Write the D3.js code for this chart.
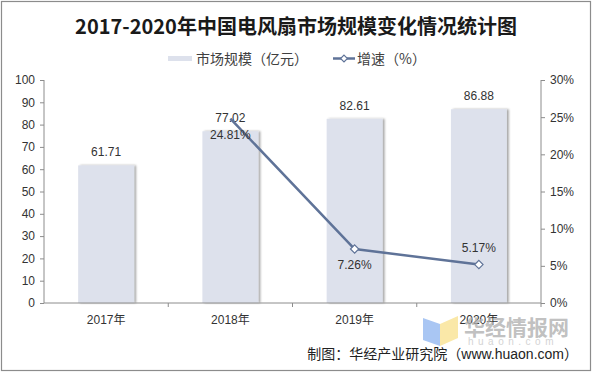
<!DOCTYPE html>
<html>
<head>
<meta charset="utf-8">
<script src="https://cdn.jsdelivr.net/npm/d3@7"></script>
<style>
  body { margin: 0; background: #fff; }
  svg { display: block; font-family: "Liberation Sans", Arial, "Noto Sans CJK SC", sans-serif; }
</style>
</head>
<body>
<svg id="chart"></svg>
<script>
const years = ["2017年", "2018年", "2019年", "2020年"];
const marketSize = [61.71, 77.02, 82.61, 86.88];
const growth = [null, 24.81, 7.26, 5.17];
const leftTicks = [0, 10, 20, 30, 40, 50, 60, 70, 80, 90, 100];
const rightTicks = [0, 5, 10, 15, 20, 25, 30];

const W = 592, H = 372;
const svg = d3.select("#chart").attr("width", W).attr("height", H);

const defs = svg.append("defs");
const f = defs.append("filter").attr("id", "shadow")
    .attr("x", "-10%").attr("y", "-5%").attr("width", "130%").attr("height", "110%");
f.append("feDropShadow").attr("dx", 2).attr("dy", 0).attr("stdDeviation", 1.2)
    .attr("flood-color", "#000").attr("flood-opacity", 0.35);

// outer frame
svg.append("rect").attr("x", 1.5).attr("y", 1.5).attr("width", W - 3).attr("height", H - 3)
    .attr("fill", "#fff").attr("stroke", "#8c8c8c").attr("stroke-width", 1.2);

const mLeft = 44, mRight = 541, mTop = 80, mBottom = 303;

const x = d3.scaleBand().domain(years).range([mLeft, mRight])
    .paddingInner(0.55).paddingOuter(0.275);
const y = d3.scaleLinear().domain([0, 100]).range([mBottom, mTop]);
const y2 = d3.scaleLinear().domain([0, 30]).range([mBottom, mTop]);

// title
svg.append("text").attr("x", 296).attr("y", 34).attr("text-anchor", "middle")
    .attr("font-family", "'Noto Sans CJK SC', sans-serif").attr("font-weight", "bold")
    .attr("font-size", 20).attr("fill", "#1a1a1a")
    .text("2017-2020年中国电风扇市场规模变化情况统计图");

// legend
const lineColor = "#5f7398";
const lg = svg.append("g").attr("font-family", "'Noto Sans CJK SC', sans-serif")
    .attr("font-size", 14).attr("fill", "#404040");
lg.append("rect").attr("x", 168).attr("y", 56).attr("width", 24).attr("height", 5).attr("fill", "#dde1ec");
lg.append("text").attr("x", 196).attr("y", 64).text("市场规模（亿元）");
lg.append("line").attr("x1", 333).attr("x2", 355).attr("y1", 58.5).attr("y2", 58.5)
    .attr("stroke", lineColor).attr("stroke-width", 2.5);
lg.append("path").attr("d", d3.symbol(d3.symbolDiamond2, 30)())
    .attr("transform", "translate(344,58.5)").attr("fill", "#fff").attr("stroke", lineColor).attr("stroke-width", 1.2);
lg.append("text").attr("x", 357).attr("y", 64).text("增速（%）");

// bars
svg.append("g").selectAll("rect").data(years).join("rect")
    .attr("x", d => x(d))
    .attr("y", (d, i) => y(marketSize[i]))
    .attr("width", x.bandwidth())
    .attr("height", (d, i) => mBottom - y(marketSize[i]))
    .attr("fill", "#dde1ec")
    .attr("filter", "url(#shadow)");

// axes
const axisColor = "#8c8c8c";
const gl = svg.append("g").attr("transform", `translate(${mLeft},0)`)
    .call(d3.axisLeft(y).tickValues(leftTicks).tickSize(4).tickPadding(5));
const gr = svg.append("g").attr("transform", `translate(${mRight},0)`)
    .call(d3.axisRight(y2).tickValues(rightTicks).tickSize(4).tickPadding(5).tickFormat(d => d + "%"));
const gb = svg.append("g").attr("transform", `translate(0,${mBottom})`)
    .call(d3.axisBottom(x).tickSize(0).tickPadding(12));
[gl, gr, gb].forEach(g => {
    g.selectAll(".domain").attr("stroke", axisColor);
    g.selectAll(".tick line").attr("stroke", axisColor);
    g.selectAll("text").attr("font-size", 12).attr("fill", "#333")
        .attr("font-family", "'Liberation Sans', Arial, 'Noto Sans CJK SC', sans-serif");
});
gl.select(".domain").attr("d", `M0,${mBottom}V${mTop}`);
gr.select(".domain").attr("d", `M0,${mBottom}V${mTop}`);
gb.select(".domain").attr("d", `M${mLeft},0H${mRight}`);
// category boundary ticks
const bounds = years.map(d => x(d) - x.step() * x.paddingInner() / 2).slice(1).concat([mRight]);
gb.selectAll(".bt").data(bounds).join("line").attr("class", "bt")
    .attr("x1", d => d).attr("x2", d => d).attr("y1", 0).attr("y2", 4).attr("stroke", axisColor);

// bar labels
svg.append("g").selectAll("text").data(years).join("text")
    .attr("x", d => x(d) + x.bandwidth() / 2)
    .attr("y", (d, i) => y(marketSize[i]) - 9)
    .attr("text-anchor", "middle").attr("font-size", 12).attr("fill", "#333")
    .text((d, i) => marketSize[i].toFixed(2));

// growth line
const pts = years.map((d, i) => ({ c: d, v: growth[i] })).filter(p => p.v !== null);
const cx = d => x(d.c) + x.bandwidth() / 2;
svg.append("path").datum(pts)
    .attr("fill", "none").attr("stroke", lineColor).attr("stroke-width", 2.5)
    .attr("stroke-linejoin", "round")
    .attr("d", d3.line().x(cx).y(d => y2(d.v)));
svg.append("g").selectAll("path").data(pts.slice(1)).join("path")
    .attr("d", d3.symbol(d3.symbolDiamond2, 44)())
    .attr("transform", d => `translate(${cx(d)},${y2(d.v)})`)
    .attr("fill", "#fff").attr("stroke", lineColor).attr("stroke-width", 1.2);
const labelOffset = [20, 20, -13];
svg.append("g").selectAll("text").data(pts).join("text")
    .attr("x", cx)
    .attr("y", (d, i) => y2(d.v) + labelOffset[i])
    .attr("text-anchor", "middle").attr("font-size", 12).attr("fill", "#333")
    .text(d => d.v.toFixed(2) + "%");

// watermark
const wm = svg.append("g");
wm.append("path").attr("d", "M423,318 L440,324 L440,346 L423,340 Z").attr("fill", "#a9c6f3");
wm.append("path").attr("d", "M440,324 L458,316 L458,338 L440,346 Z").attr("fill", "#fae8a8");
wm.append("text").attr("x", 464).attr("y", 335).attr("font-size", 21).attr("font-weight", "bold")
    .attr("font-family", "'Noto Sans CJK SC', sans-serif").attr("fill", "#b0b0b0").attr("fill-opacity", 0.8)
    .text("华经情报网");
wm.append("text").attr("x", 468).attr("y", 345).attr("font-size", 10).attr("letter-spacing", 4.5)
    .attr("fill", "#d4d4d4").text("huaon.com");

// source
svg.append("text").attr("x", 578).attr("y", 359).attr("text-anchor", "end")
    .attr("font-size", 14).attr("fill", "#222")
    .attr("font-family", "'Liberation Sans', Arial, 'Noto Sans CJK SC', sans-serif")
    .text("制图：华经产业研究院（www.huaon.com）");
</script>
</body>
</html>
